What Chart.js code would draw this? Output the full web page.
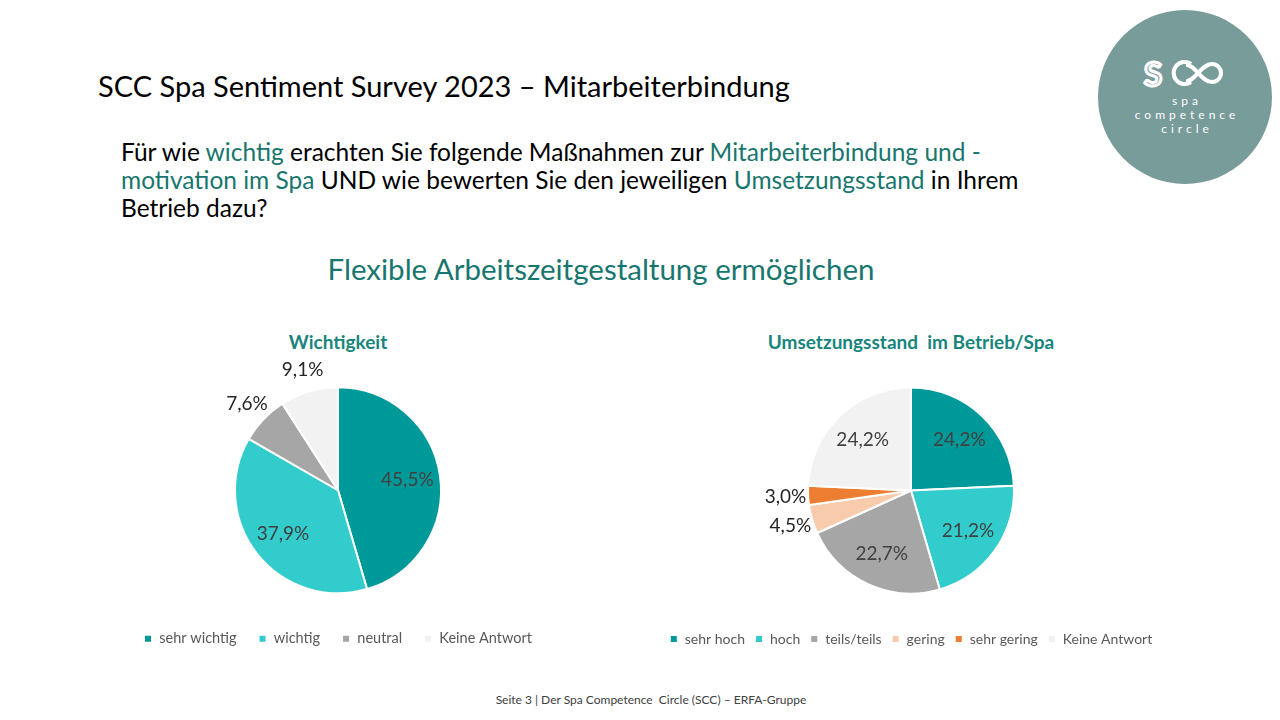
<!DOCTYPE html>
<html>
<head>
<meta charset="utf-8">
<script src="https://cdn.jsdelivr.net/npm/chart.js@4"></script>
<style>
  body { margin: 0; width: 1280px; height: 720px; background: #fff; font-family: Lato, "Open Sans", sans-serif; position: relative; overflow: hidden; }
  .abs { position: absolute; }
  .teal { color: #17766e; }
  #title { left: 98px; top: 68px; font-size: 29px; color: #000; white-space: nowrap; }
  #question { left: 121px; top: 138px; font-size: 24.5px; line-height: 28px; color: #000; white-space: nowrap; }
  #sub { left: 0; width: 1202px; text-align: center; top: 251px; font-size: 29.5px; color: #17766e; }
  .ctitle { top: 330px; font-size: 19px; font-weight: bold; color: #17857c; text-align: center; width: 600px; }
  #logo { left: 1098px; top: 10px; width: 174px; height: 174px; border-radius: 50%; background: #789c9a; }
  #logo .txt { position: absolute; left: 2px; width: 174px; text-align: center; color: #fff; font-size: 12px; letter-spacing: 4px; line-height: 14px; top: 84px; }
  #footer { left: 0; width: 1302px; text-align: center; top: 692px; font-size: 12px; color: #404040; }
  canvas { position: absolute; }
</style>
</head>
<body>
<div id="title" class="abs">SCC Spa Sentiment Survey 2023 – Mitarbeiterbindung</div>
<div id="question" class="abs">Für wie <span class="teal">wichtig</span> erachten Sie folgende Maßnahmen zur <span class="teal">Mitarbeiterbindung und -</span><br><span class="teal">motivation im Spa</span> UND wie bewerten Sie den jeweiligen <span class="teal">Umsetzungsstand</span> in Ihrem<br>Betrieb dazu?</div>
<div id="sub" class="abs">Flexible Arbeitszeitgestaltung ermöglichen</div>
<div class="abs ctitle" style="left:38px">Wichtigkeit</div>
<div class="abs ctitle" style="left:611px">Umsetzungsstand&nbsp; im Betrieb/Spa</div>
<div id="logo" class="abs">
  <svg width="174" height="80" style="position:absolute;left:0;top:0">
    <text x="46" y="76" font-family="Lato" font-weight="bold" font-size="33" fill="none" stroke="#fff" stroke-width="3">S</text>
    <path d="M93 54 a11 11 0 1 0 0 18" fill="none" stroke="#fff" stroke-width="4"/>
    <path d="M88 71 C97 72 103 54 114 54 a9 9 0 1 1 0 18 C103 72 97 54 88 55" fill="none" stroke="#fff" stroke-width="4"/>
  </svg>
  <div class="txt">spa<br>competence<br>circle</div>
</div>
<canvas id="chart1" style="left:38px;top:360px;width:600px;height:296px"></canvas>
<canvas id="chart2" style="left:561px;top:348px;width:700px;height:308px"></canvas>
<div id="footer" class="abs">Seite 3 | Der Spa Competence&nbsp; Circle (SCC) – ERFA-Gruppe</div>

<script>
// Wichtigkeit
const labels1 = ['sehr wichtig', 'wichtig', 'neutral', 'Keine Antwort'];
const values1 = [45.5, 37.9, 7.6, 9.1];
const colors1 = ['#009999', '#33cccc', '#a6a6a6', '#f2f2f2'];

// Umsetzungsstand
const labels2 = ['sehr hoch', 'hoch', 'teils/teils', 'gering', 'sehr gering', 'Keine Antwort'];
const values2 = [24.2, 21.2, 22.7, 4.5, 3.0, 24.2];
const colors2 = ['#009999', '#33cccc', '#a6a6a6', '#f8cbad', '#ed7d31', '#f2f2f2'];

// percentage labels, small slices get the label outside
const pieLabels = {
    id: 'pieLabels',
    afterDatasetsDraw(chart) {
        const ctx = chart.ctx;
        const meta = chart.getDatasetMeta(0);
        const vals = chart.data.datasets[0].data;
        ctx.save();
        ctx.font = '19px Lato, sans-serif';
        ctx.textAlign = 'center';
        ctx.textBaseline = 'middle';
        meta.data.forEach((arc, i) => {
            const v = vals[i];
            const mid = (arc.startAngle + arc.endAngle) / 2;
            const f = v < 10 ? 1.22 : 0.68;
            const x = arc.x + Math.cos(mid) * arc.outerRadius * f;
            const y = arc.y + Math.sin(mid) * arc.outerRadius * f;
            ctx.fillStyle = v < 10 ? '#262626' : '#404040';
            ctx.fillText(v.toFixed(1).replace('.', ',') + '%', x, y);
        });
        ctx.restore();
    }
};

function makePie(id, labels, values, colors, legendGap, legendSize) {
    new Chart(document.getElementById(id), {
        type: 'pie',
        data: {
            labels: labels,
            datasets: [{
                data: values,
                backgroundColor: colors,
                borderColor: '#ffffff',
                borderWidth: 2,
                radius: 103
            }]
        },
        options: {
            responsive: false,
            animation: false,
            layout: { padding: { top: 11, bottom: 0 } },
            plugins: {
                tooltip: { enabled: false },
                legend: {
                    position: 'bottom',
                    labels: {
                        boxWidth: 8,
                        boxHeight: 8,
                        padding: legendGap,
                        color: '#595959',
                        font: { family: 'Lato', size: legendSize }
                    }
                }
            }
        },
        plugins: [pieLabels]
    });
}

makePie('chart1', labels1, values1, colors1, 22, 14.5);
makePie('chart2', labels2, values2, colors2, 10, 14);
</script>
</body>
</html>
